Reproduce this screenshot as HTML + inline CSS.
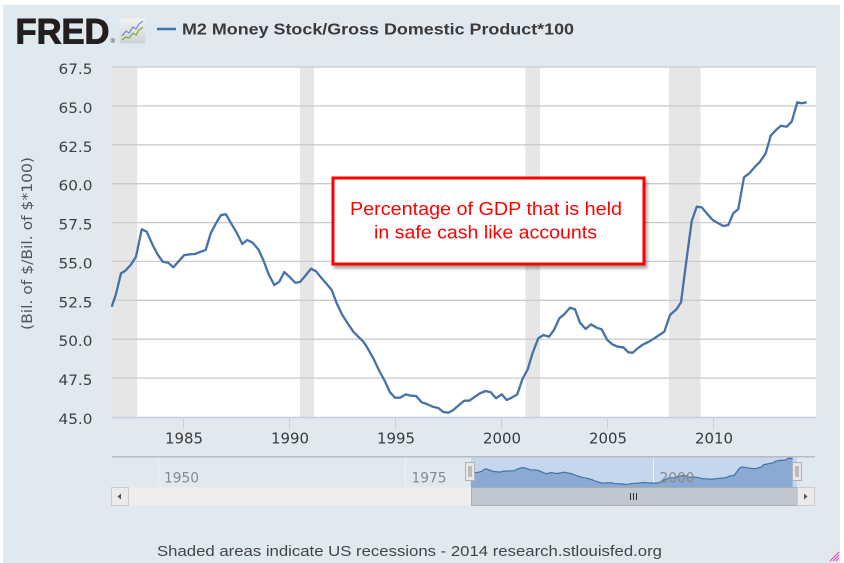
<!DOCTYPE html>
<html><head><meta charset="utf-8"><style>
html,body{margin:0;padding:0;background:#fff;}
svg{display:block;}
</style></head><body>
<svg width="844" height="563" viewBox="0 0 844 563" xmlns="http://www.w3.org/2000/svg">
<defs>
<linearGradient id="ig" x1="0" y1="0" x2="0" y2="1"><stop offset="0" stop-color="#f2f2f2"/><stop offset="1" stop-color="#cfd3d6"/></linearGradient>
<filter id="sh" x="-10%" y="-10%" width="130%" height="140%"><feDropShadow dx="2" dy="3" stdDeviation="1.5" flood-color="#000" flood-opacity="0.35"/></filter>
</defs>
<rect x="3" y="5" width="837" height="558" fill="#e1e9f0"/>

<!-- header -->
<text x="15.5" y="43.5" font-family="Liberation Sans, Arial, sans-serif" font-weight="bold" font-size="35" fill="#231f20" stroke="#231f20" stroke-width="1" textLength="94" lengthAdjust="spacingAndGlyphs">FRED</text>
<text x="110.5" y="43" font-family="Liberation Sans, Arial, sans-serif" font-size="6" fill="#231f20">®</text>
<rect x="119.5" y="18.5" width="26" height="25" rx="2" fill="url(#ig)"/>
<polyline points="122,36 126,31 129,33 133,27 136,29 139,24 143,21" fill="none" stroke="#6f8fc0" stroke-width="1.2"/>
<polyline points="122,40 126,37 129,38 133,33 136,35 139,30 143,27" fill="none" stroke="#7aaa3c" stroke-width="1.2"/>
<line x1="157" y1="29" x2="176" y2="29" stroke="#4572a7" stroke-width="2.5"/>
<text x="182" y="34.5" font-family="Liberation Sans, Arial, sans-serif" font-weight="bold" font-size="16" fill="#3a3a3a" textLength="392" lengthAdjust="spacingAndGlyphs">M2 Money Stock/Gross Domestic Product*100</text>

<!-- plot -->
<rect x="112" y="67" width="704" height="350" fill="#ffffff"/>
<g fill="#e6e6e6">
<rect x="112" y="67" width="25.3" height="350"/>
<rect x="300" y="67" width="14" height="350"/>
<rect x="525.5" y="67" width="14.5" height="350"/>
<rect x="669" y="67" width="31.5" height="350"/>
</g>
<g stroke="#cbcbcb" stroke-width="1.3">
<line x1="112" y1="67" x2="816" y2="67"/>
<line x1="112" y1="105.9" x2="816" y2="105.9"/>
<line x1="112" y1="144.8" x2="816" y2="144.8"/>
<line x1="112" y1="183.7" x2="816" y2="183.7"/>
<line x1="112" y1="222.6" x2="816" y2="222.6"/>
<line x1="112" y1="261.4" x2="816" y2="261.4"/>
<line x1="112" y1="300.3" x2="816" y2="300.3"/>
<line x1="112" y1="339.2" x2="816" y2="339.2"/>
<line x1="112" y1="378.1" x2="816" y2="378.1"/>
</g>
<line x1="112" y1="417.5" x2="816" y2="417.5" stroke="#c0d0e0" stroke-width="1.5"/>
<g stroke="#c0d0e0" stroke-width="1">
<line x1="183.5" y1="418" x2="183.5" y2="429"/>
<line x1="289.5" y1="418" x2="289.5" y2="429"/>
<line x1="395.5" y1="418" x2="395.5" y2="429"/>
<line x1="501.5" y1="418" x2="501.5" y2="429"/>
<line x1="607.5" y1="418" x2="607.5" y2="429"/>
<line x1="713.5" y1="418" x2="713.5" y2="429"/>
</g>

<polyline fill="none" stroke="#4572a7" stroke-width="2.3" stroke-linejoin="round" points="111.7,306.7 116,294 121,273.3 125,271 130.7,265 136,256.7 141.7,229.3 146.7,231.7 152.7,245 157.3,254 162.7,261.7 168.3,262.7 173.3,267.3 178.3,261.7 184,255.3 190,254.3 195,254 200,252 205.7,250 210.7,233.3 216,223.3 221,215 226,214.3 230.7,222.7 236.7,232.7 242.3,244 247.3,240 252.7,242.7 258.3,249.3 263.3,260 269,275 274.3,285 279.3,281.7 284.3,272 290,277.3 295.3,282.7 300,282 306,275 311,268.7 316,271.3 321.7,278.3 326.7,284 331.7,290 336.7,303.3 342.3,315 347.3,322.7 353.3,331.7 358.3,336.7 363.3,341.7 366.7,346.7 373.3,358.3 379.3,371 384.3,380 390,392.3 395,397.7 400,397.7 406,394.3 410.7,395.7 416,396 421.7,402.3 426.7,404 432.7,406.7 438.3,408 443.3,412 448.3,412.7 453.3,410 459,405 464.3,400.7 469.3,400.7 475,396.7 480,393.3 485.7,391 490.7,392.3 496,398.3 501.7,394.3 506.7,400 512.3,397.3 517.3,394.3 522.3,379.3 527.7,369.3 532.7,352.7 538.3,338.3 543.3,335 549,336.7 554,330 559.3,318.3 564.3,314.3 570,307.7 575,309.3 580,322.7 585.7,329 591,324.3 596.7,327.7 601.7,329.3 607.3,340 612.3,344.3 617.7,346.7 623.3,347.3 628.3,352.3 632.7,352.7 637.7,348.3 643.3,344.3 649,341.7 654.3,338.3 659.3,335 664.3,331.7 670,315 676.7,309 681,302.3 686.7,258.3 691.7,221 696.7,206.7 701.7,207.3 706.7,213.3 712.7,220 718.3,223.3 723.3,226 728.3,225 733.3,213.3 738.3,209 744,177.3 749.3,173.3 755,166.7 760,161.7 765.7,153.3 770.7,135.7 776,130 781,125.7 786.7,126.7 791.7,121.7 797.3,102.3 801.7,103.3 806.7,102.3"/>

<!-- annotation -->
<rect x="333" y="178" width="311" height="86" fill="#ffffff" stroke="#ff0000" stroke-width="3" filter="url(#sh)"/>
<g font-family="Liberation Sans, Arial, sans-serif" font-size="18" fill="#ff0000" text-anchor="middle">
<text x="486" y="215" textLength="272" lengthAdjust="spacingAndGlyphs">Percentage of GDP that is held</text>
<text x="485.5" y="238.5" textLength="223" lengthAdjust="spacingAndGlyphs">in safe cash like accounts</text>
</g>

<!-- y labels -->
<g font-family="DejaVu Sans, Verdana, sans-serif" font-size="14.5" fill="#3f3f3f" text-anchor="end">
<text x="92.5" y="74" textLength="34" lengthAdjust="spacingAndGlyphs">67.5</text>
<text x="92.5" y="112.9" textLength="34" lengthAdjust="spacingAndGlyphs">65.0</text>
<text x="92.5" y="151.8" textLength="34" lengthAdjust="spacingAndGlyphs">62.5</text>
<text x="92.5" y="190.7" textLength="34" lengthAdjust="spacingAndGlyphs">60.0</text>
<text x="92.5" y="229.6" textLength="34" lengthAdjust="spacingAndGlyphs">57.5</text>
<text x="92.5" y="268.4" textLength="34" lengthAdjust="spacingAndGlyphs">55.0</text>
<text x="92.5" y="307.3" textLength="34" lengthAdjust="spacingAndGlyphs">52.5</text>
<text x="92.5" y="346.2" textLength="34" lengthAdjust="spacingAndGlyphs">50.0</text>
<text x="92.5" y="385.1" textLength="34" lengthAdjust="spacingAndGlyphs">47.5</text>
<text x="92.5" y="424" textLength="34" lengthAdjust="spacingAndGlyphs">45.0</text>
</g>
<text transform="translate(32,243.5) rotate(-90)" font-family="DejaVu Sans, Verdana, sans-serif" font-size="14" fill="#555" text-anchor="middle" textLength="173" lengthAdjust="spacingAndGlyphs">(Bil. of $/Bil. of $*100)</text>

<!-- x labels -->
<g font-family="DejaVu Sans, Verdana, sans-serif" font-size="15" fill="#3a3a3a" text-anchor="middle">
<text x="184" y="443.5" textLength="38" lengthAdjust="spacingAndGlyphs">1985</text>
<text x="290" y="443.5" textLength="38" lengthAdjust="spacingAndGlyphs">1990</text>
<text x="396" y="443.5" textLength="38" lengthAdjust="spacingAndGlyphs">1995</text>
<text x="502" y="443.5" textLength="38" lengthAdjust="spacingAndGlyphs">2000</text>
<text x="608" y="443.5" textLength="38" lengthAdjust="spacingAndGlyphs">2005</text>
<text x="714" y="443.5" textLength="38" lengthAdjust="spacingAndGlyphs">2010</text>
</g>

<!-- navigator -->
<rect x="471" y="457" width="326" height="30" fill="#c4d7ec"/>
<g stroke="#eef2f7" stroke-width="1">
<line x1="158.5" y1="457" x2="158.5" y2="487"/>
<line x1="405.5" y1="457" x2="405.5" y2="487"/>
<line x1="653.5" y1="457" x2="653.5" y2="487"/>
</g>
<g transform="matrix(0.463,0,0,0.08376,419.14,449.73)">
<polygon fill="#8aaad3" stroke="none" points="111.7,445 111.7,306.7 116,294 121,273.3 125,271 130.7,265 136,256.7 141.7,229.3 146.7,231.7 152.7,245 157.3,254 162.7,261.7 168.3,262.7 173.3,267.3 178.3,261.7 184,255.3 190,254.3 195,254 200,252 205.7,250 210.7,233.3 216,223.3 221,215 226,214.3 230.7,222.7 236.7,232.7 242.3,244 247.3,240 252.7,242.7 258.3,249.3 263.3,260 269,275 274.3,285 279.3,281.7 284.3,272 290,277.3 295.3,282.7 300,282 306,275 311,268.7 316,271.3 321.7,278.3 326.7,284 331.7,290 336.7,303.3 342.3,315 347.3,322.7 353.3,331.7 358.3,336.7 363.3,341.7 366.7,346.7 373.3,358.3 379.3,371 384.3,380 390,392.3 395,397.7 400,397.7 406,394.3 410.7,395.7 416,396 421.7,402.3 426.7,404 432.7,406.7 438.3,408 443.3,412 448.3,412.7 453.3,410 459,405 464.3,400.7 469.3,400.7 475,396.7 480,393.3 485.7,391 490.7,392.3 496,398.3 501.7,394.3 506.7,400 512.3,397.3 517.3,394.3 522.3,379.3 527.7,369.3 532.7,352.7 538.3,338.3 543.3,335 549,336.7 554,330 559.3,318.3 564.3,314.3 570,307.7 575,309.3 580,322.7 585.7,329 591,324.3 596.7,327.7 601.7,329.3 607.3,340 612.3,344.3 617.7,346.7 623.3,347.3 628.3,352.3 632.7,352.7 637.7,348.3 643.3,344.3 649,341.7 654.3,338.3 659.3,335 664.3,331.7 670,315 676.7,309 681,302.3 686.7,258.3 691.7,221 696.7,206.7 701.7,207.3 706.7,213.3 712.7,220 718.3,223.3 723.3,226 728.3,225 733.3,213.3 738.3,209 744,177.3 749.3,173.3 755,166.7 760,161.7 765.7,153.3 770.7,135.7 776,130 781,125.7 786.7,126.7 791.7,121.7 797.3,102.3 801.7,103.3 806.7,102.3 806.7,445"/>
<polyline fill="none" stroke="#4572a7" stroke-width="1.2" vector-effect="non-scaling-stroke" points="111.7,306.7 116,294 121,273.3 125,271 130.7,265 136,256.7 141.7,229.3 146.7,231.7 152.7,245 157.3,254 162.7,261.7 168.3,262.7 173.3,267.3 178.3,261.7 184,255.3 190,254.3 195,254 200,252 205.7,250 210.7,233.3 216,223.3 221,215 226,214.3 230.7,222.7 236.7,232.7 242.3,244 247.3,240 252.7,242.7 258.3,249.3 263.3,260 269,275 274.3,285 279.3,281.7 284.3,272 290,277.3 295.3,282.7 300,282 306,275 311,268.7 316,271.3 321.7,278.3 326.7,284 331.7,290 336.7,303.3 342.3,315 347.3,322.7 353.3,331.7 358.3,336.7 363.3,341.7 366.7,346.7 373.3,358.3 379.3,371 384.3,380 390,392.3 395,397.7 400,397.7 406,394.3 410.7,395.7 416,396 421.7,402.3 426.7,404 432.7,406.7 438.3,408 443.3,412 448.3,412.7 453.3,410 459,405 464.3,400.7 469.3,400.7 475,396.7 480,393.3 485.7,391 490.7,392.3 496,398.3 501.7,394.3 506.7,400 512.3,397.3 517.3,394.3 522.3,379.3 527.7,369.3 532.7,352.7 538.3,338.3 543.3,335 549,336.7 554,330 559.3,318.3 564.3,314.3 570,307.7 575,309.3 580,322.7 585.7,329 591,324.3 596.7,327.7 601.7,329.3 607.3,340 612.3,344.3 617.7,346.7 623.3,347.3 628.3,352.3 632.7,352.7 637.7,348.3 643.3,344.3 649,341.7 654.3,338.3 659.3,335 664.3,331.7 670,315 676.7,309 681,302.3 686.7,258.3 691.7,221 696.7,206.7 701.7,207.3 706.7,213.3 712.7,220 718.3,223.3 723.3,226 728.3,225 733.3,213.3 738.3,209 744,177.3 749.3,173.3 755,166.7 760,161.7 765.7,153.3 770.7,135.7 776,130 781,125.7 786.7,126.7 791.7,121.7 797.3,102.3 801.7,103.3 806.7,102.3"/>
</g>
<g font-family="DejaVu Sans, Verdana, sans-serif" font-size="14" fill="#888">
<text x="164" y="482.5" textLength="35" lengthAdjust="spacingAndGlyphs">1950</text>
<text x="411.5" y="482.5" textLength="35" lengthAdjust="spacingAndGlyphs">1975</text>
<text x="659.5" y="482.5" textLength="35" lengthAdjust="spacingAndGlyphs">2000</text>
</g>
<line x1="112" y1="456.8" x2="815" y2="456.8" stroke="#b8bcc2" stroke-width="1.5"/>
<!-- handles -->
<rect x="465.5" y="462.5" width="9" height="18" fill="#ebe7e8" stroke="#b2b1b6" stroke-width="1"/>
<line x1="469" y1="466" x2="469" y2="477" stroke="#8d8d8d"/>
<line x1="471" y1="466" x2="471" y2="477" stroke="#8d8d8d"/>
<rect x="792.5" y="462.5" width="9" height="18" fill="#ebe7e8" stroke="#b2b1b6" stroke-width="1"/>
<line x1="796" y1="466" x2="796" y2="477" stroke="#8d8d8d"/>
<line x1="798" y1="466" x2="798" y2="477" stroke="#8d8d8d"/>

<!-- scrollbar -->
<rect x="111" y="487.5" width="704" height="18" fill="#eeeeee"/>
<rect x="471.5" y="487.5" width="326" height="18" fill="#bfc7d0" stroke="#a9adb3" stroke-width="1"/>
<g stroke="#333" stroke-width="1">
<line x1="630.5" y1="493" x2="630.5" y2="500"/>
<line x1="633.5" y1="493" x2="633.5" y2="500"/>
<line x1="636.5" y1="493" x2="636.5" y2="500"/>
</g>
<rect x="111.5" y="487.5" width="17" height="18" fill="#ebebeb" stroke="#cccccc" stroke-width="1"/>
<polygon points="121,493.5 121,499.5 117.5,496.5" fill="#555"/>
<rect x="797.5" y="487.5" width="17" height="18" fill="#ebebeb" stroke="#cccccc" stroke-width="1"/>
<polygon points="804,493.5 804,499.5 807.5,496.5" fill="#555"/>

<!-- footer -->
<text x="157" y="556" font-family="Liberation Sans, Arial, sans-serif" font-size="15" fill="#444" textLength="505" lengthAdjust="spacingAndGlyphs">Shaded areas indicate US recessions - 2014 research.stlouisfed.org</text>

<!-- resize grip -->
<g stroke="#e040b0" stroke-width="1">
<line x1="830" y1="561" x2="839" y2="552"/>
<line x1="833" y1="561" x2="839" y2="555"/>
<line x1="836" y1="561" x2="839" y2="558"/>
</g>
</svg>
</body></html>
